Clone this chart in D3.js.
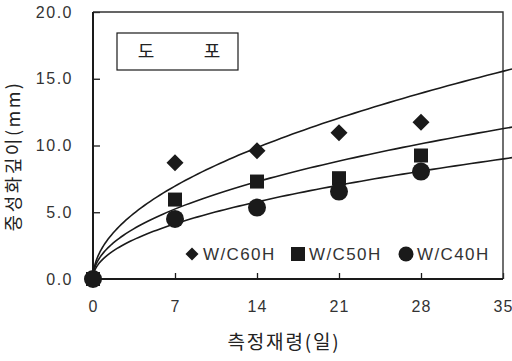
<!DOCTYPE html>
<html>
<head>
<meta charset="utf-8">
<script src="https://cdn.jsdelivr.net/npm/d3@7/dist/d3.min.js"></script>
<style>
  body { margin: 0; background: #fff; }
  svg { display: block; }
  .tick text { font-family: "Liberation Sans", Arial, sans-serif; fill: #333; }
</style>
</head>
<body>
<div id="chart"></div>
<script>
// measurement days and carbonation depth (mm)
const days = [0, 7, 14, 21, 28];
const seriesNames = ["W/C60H", "W/C50H", "W/C40H"];
const wc60 = [0, 8.7, 9.6, 10.95, 11.75];
const wc50 = [0, 5.95, 7.3, 7.55, 9.25];
const wc40 = [0, 4.5, 5.35, 6.55, 8.05];
// regression curves depth = a * t^b, one per series
const fitA = [2.63, 2.08, 1.615];
const fitB = [0.5, 0.475, 0.483];
const xTicks = [0, 7, 14, 21, 28, 35];
const yTicks = [0, 5, 10, 15, 20];
const titleChars = ["도", "포"];
const xTitle = "측정재령(일)";
const yTitle = "중성화깊이(mm)";

const width = 512, height = 361;
const margin = { top: 12, right: 9, bottom: 82, left: 93 };

const svg = d3.select("#chart").append("svg")
  .attr("width", width)
  .attr("height", height);

const x = d3.scaleLinear().domain([0, 35]).range([margin.left, width - margin.right]);
const y = d3.scaleLinear().domain([0, 20]).range([height - margin.bottom, margin.top]);

const ink = "#1a1a1a";
const series = [wc60, wc50, wc40];
const shapes = ["diamond", "square", "circle"];

// axes (ticks point inward)
svg.append("g")
  .attr("transform", `translate(${margin.left},0)`)
  .call(d3.axisLeft(y).tickValues(yTicks).tickSize(-7).tickPadding(20).tickFormat(d3.format(".1f")))
  .call(g => g.select(".domain").remove())
  .call(g => g.selectAll(".tick line").attr("stroke", ink).attr("stroke-width", 1.3))
  .call(g => g.selectAll(".tick text").attr("font-size", 16).attr("letter-spacing", "1.5px"));

svg.append("g")
  .attr("transform", `translate(0,${y(0)})`)
  .call(d3.axisBottom(x).tickValues(xTicks).tickSize(-6).tickPadding(22))
  .call(g => g.select(".domain").remove())
  .call(g => g.selectAll(".tick line").attr("stroke", ink).attr("stroke-width", 1.3))
  .call(g => g.selectAll(".tick text").attr("font-size", 16).attr("letter-spacing", "1px"));

// plot frame
const x0 = x(0), x1 = x(35), y0 = y(0), y1 = y(20);
svg.append("path")
  .attr("d", `M${x0},${y1}H${x1}V${y0}`)
  .attr("fill", "none").attr("stroke", "#333").attr("stroke-width", 1.4);
svg.append("path")
  .attr("d", `M${x0},${y1}V${y0}H${x1}`)
  .attr("fill", "none").attr("stroke", ink).attr("stroke-width", 2);

// fitted curves, drawn a bit past the frame like the original
const tMax = x.invert(width);
const ts = d3.range(0, 1.0001, 0.01).map(u => u * u * tMax);
const line = d3.line().x(d => x(d[0])).y(d => y(d[1]));
fitA.forEach((a, i) => {
  svg.append("path")
    .datum(ts.map(t => [t, a * Math.pow(t, fitB[i])]))
    .attr("d", line)
    .attr("fill", "none")
    .attr("stroke", ink)
    .attr("stroke-width", 1.6);
});

function marker(g, shape, cx, cy, s) {
  if (shape === "diamond") {
    g.append("path")
      .attr("d", `M${cx},${cy - s}L${cx + s},${cy}L${cx},${cy + s}L${cx - s},${cy}Z`)
      .attr("fill", ink);
  } else if (shape === "square") {
    g.append("rect")
      .attr("x", cx - s).attr("y", cy - s)
      .attr("width", 2 * s).attr("height", 2 * s)
      .attr("fill", ink);
  } else {
    g.append("circle").attr("cx", cx).attr("cy", cy).attr("r", s).attr("fill", ink);
  }
}

const plotSize = { diamond: 8.5, square: 7, circle: 9 };
const pts = svg.append("g");
series.forEach((vals, i) => {
  vals.forEach((v, j) => marker(pts, shapes[i], x(days[j]), y(v), plotSize[shapes[i]]));
});

// legend inside the plot
const legendSize = { diamond: 6.5, square: 7, circle: 7.5 };
const legendX = [192, 298, 406];
const legendY = 254;
const lg = svg.append("g");
seriesNames.forEach((name, i) => {
  marker(lg, shapes[i], legendX[i], legendY, legendSize[shapes[i]]);
  lg.append("text")
    .attr("x", legendX[i] + 11)
    .attr("y", legendY)
    .attr("dy", "0.36em")
    .attr("font-family", "Liberation Sans, Arial, sans-serif")
    .attr("font-size", 17)
    .attr("letter-spacing", "1.4px")
    .attr("fill", "#333")
    .text(name);
});

// title box
svg.append("rect")
  .attr("x", 117).attr("y", 33)
  .attr("width", 121).attr("height", 37)
  .attr("fill", "#fff").attr("stroke", ink).attr("stroke-width", 1.2);
[146, 212].forEach((cx, i) => {
  svg.append("text")
    .attr("x", cx).attr("y", 52)
    .attr("dy", "0.36em")
    .attr("text-anchor", "middle")
    .attr("font-family", "Noto Sans CJK KR, sans-serif")
    .attr("font-size", 18)
    .attr("fill", "#222")
    .text(titleChars[i]);
});

// axis titles
svg.append("text")
  .attr("x", 284).attr("y", 342)
  .attr("dy", "0.36em")
  .attr("text-anchor", "middle")
  .attr("font-family", "Noto Sans CJK KR, sans-serif")
  .attr("font-size", 19)
  .attr("letter-spacing", "1.8px")
  .attr("fill", "#222")
  .text(xTitle);

svg.append("text")
  .attr("transform", "translate(14,156) rotate(-90)")
  .attr("dy", "0.36em")
  .attr("text-anchor", "middle")
  .attr("font-family", "Noto Sans CJK KR, sans-serif")
  .attr("font-size", 18)
  .attr("letter-spacing", "2.5px")
  .attr("fill", "#222")
  .text(yTitle);
</script>
</body>
</html>
